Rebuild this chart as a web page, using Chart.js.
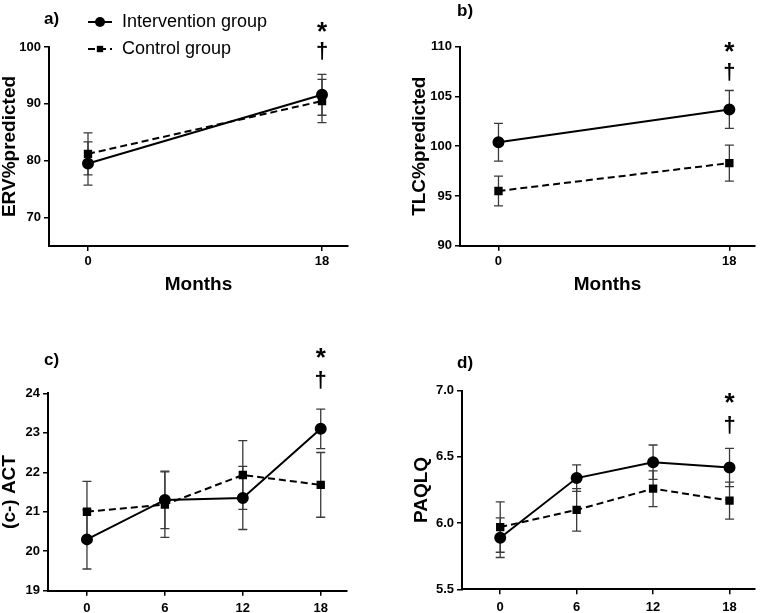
<!DOCTYPE html>
<html>
<head>
<meta charset="utf-8">
<script src="https://cdn.jsdelivr.net/npm/chart.js@4"></script>
<style>
  body { margin: 0; background: #fff; }
  #wrap { position: relative; width: 762px; height: 613px; overflow: hidden; background: #fff; }
  canvas { position: absolute; }
</style>
</head>
<body>
<div id="wrap">
  <canvas id="panelA" width="381" height="300" style="left:0px;top:0px"></canvas>
  <canvas id="panelB" width="381" height="300" style="left:381px;top:0px"></canvas>
  <canvas id="panelC" width="381" height="313" style="left:0px;top:300px"></canvas>
  <canvas id="panelD" width="381" height="313" style="left:381px;top:300px"></canvas>
</div>
<script>
// months on the x axis
const monthsShort = [0, 18];
const monthsLong = [0, 6, 12, 18];

// a) ERV % predicted (mean, error)
const ervIntervention = [79.5, 91.6];
const ervInterventionErr = [3.8, 3.6];
const ervControl = [81.2, 90.5];
const ervControlErr = [3.7, 3.8];
const ervTicks = [70, 80, 90, 100];

// b) TLC % predicted
const tlcIntervention = [100.4, 103.7];
const tlcInterventionErr = [1.9, 1.9];
const tlcControl = [95.5, 98.3];
const tlcControlErr = [1.5, 1.8];
const tlcTicks = [90, 95, 100, 105, 110];

// c) (c-) ACT
const actIntervention = [20.3, 21.3, 21.35, 23.1];
const actInterventionErr = [0.75, 0.73, 0.8, 0.5];
const actControl = [21.0, 21.18, 21.93, 21.68];
const actControlErr = [0.77, 0.83, 0.87, 0.82];
const actTicks = [19, 20, 21, 22, 23, 24];

// d) PAQLQ
const paqlqIntervention = [5.89, 6.34, 6.46, 6.42];
const paqlqInterventionErr = [0.15, 0.1, 0.13, 0.145];
const paqlqControl = [5.97, 6.10, 6.26, 6.17];
const paqlqControlErr = [0.19, 0.16, 0.135, 0.14];
const paqlqTicks = [5.5, 6.0, 6.5, 7.0];

const seriesLabels = ['Intervention group', 'Control group'];
const FONT = '"Liberation Sans", Arial, Helvetica, sans-serif';

Chart.defaults.font.family = FONT;
Chart.defaults.color = '#000';

function centerText(ctx, text, x, y) {
  ctx.textBaseline = 'alphabetic';
  const m = ctx.measureText(text);
  ctx.fillText(text, x, y + (m.actualBoundingBoxAscent - m.actualBoundingBoxDescent) / 2);
}

// error bars drawn under the lines, from the y scale
const errorBarPlugin = {
  id: 'errorBars',
  beforeDatasetsDraw(chart) {
    const ctx = chart.ctx;
    const ys = chart.scales.y;
    ctx.save();
    ctx.strokeStyle = '#3a3a3a';
    ctx.lineWidth = 1.3;
    chart.data.datasets.forEach((ds, i) => {
      const meta = chart.getDatasetMeta(i);
      meta.data.forEach((pt, j) => {
        const v = ds.data[j].y, e = ds.errors[j];
        const top = ys.getPixelForValue(v + e);
        const bot = ys.getPixelForValue(v - e);
        ctx.beginPath();
        ctx.moveTo(pt.x, top); ctx.lineTo(pt.x, bot);
        ctx.moveTo(pt.x - 4.5, top); ctx.lineTo(pt.x + 4.5, top);
        ctx.moveTo(pt.x - 4.5, bot); ctx.lineTo(pt.x + 4.5, bot);
        ctx.stroke();
      });
    });
    ctx.restore();
  }
};

// panel letter, significance marks and the legend
const markPlugin = {
  id: 'marks',
  afterDraw(chart, args, o) {
    const ctx = chart.ctx;
    ctx.save();
    ctx.fillStyle = '#000';
    ctx.textAlign = 'left';
    ctx.font = 'bold 17px ' + FONT;
    centerText(ctx, o.letter, o.letterX, o.letterY);

    const x18 = chart.scales.x.getPixelForValue(18);
    ctx.textAlign = 'center';
    ctx.font = 'bold 26px ' + FONT;
    centerText(ctx, '*', x18, o.starY[0]);
    ctx.font = 'bold 22px ' + FONT;
    centerText(ctx, '\u2020', x18, o.starY[1]);

    if (o.legend) {
      chart.data.datasets.forEach((ds, i) => {
        const y = o.legend.y[i];
        ctx.strokeStyle = '#000';
        ctx.lineWidth = 2;
        ctx.setLineDash(ds.borderDash || []);
        ctx.beginPath();
        ctx.moveTo(o.legend.x0, y); ctx.lineTo(o.legend.x1, y);
        ctx.stroke();
        ctx.setLineDash([]);
        const cx = (o.legend.x0 + o.legend.x1) / 2;
        ctx.beginPath();
        if (ds.pointStyle === 'rect') {
          const s = ds.pointRadius * Math.SQRT1_2;
          ctx.rect(cx - s, y - s, 2 * s, 2 * s);
        } else {
          ctx.arc(cx, y, ds.pointRadius, 0, Math.PI * 2);
        }
        ctx.fill();
        ctx.textAlign = 'left';
        ctx.font = '18px ' + FONT;
        centerText(ctx, ds.label, o.legend.tx, y);
      });
    }
    ctx.restore();
  }
};

function points(xs, ys) {
  return xs.map((x, i) => ({ x: x, y: ys[i] }));
}

function drawPanel(id, p) {
  const axisGrid = { drawOnChartArea: false, drawTicks: true, tickLength: 5, color: '#000', lineWidth: 1.5 };
  const axisBorder = { display: true, color: '#000', width: 2 };
  return new Chart(document.getElementById(id), {
    type: 'line',
    data: {
      datasets: [{
        label: seriesLabels[0],
        data: points(p.months, p.inter),
        errors: p.interErr,
        borderColor: '#000', backgroundColor: '#000',
        borderWidth: 2, pointStyle: 'circle', pointRadius: 5,
        tension: 0
      }, {
        label: seriesLabels[1],
        data: points(p.months, p.control),
        errors: p.controlErr,
        borderColor: '#000', backgroundColor: '#000',
        borderWidth: 2, borderDash: [7, 4], pointStyle: 'rect', pointRadius: 4.5,
        tension: 0
      }]
    },
    options: {
      responsive: false,
      animation: false,
      layout: { padding: p.pad },
      plugins: {
        legend: { display: false },
        tooltip: { enabled: false },
        marks: p.marks
      },
      scales: {
        x: {
          type: 'linear', min: -3, max: 20,
          afterBuildTicks: s => { s.ticks = p.months.map(v => ({ value: v })); },
          afterFit: s => { s.height = p.xHeight; },
          grid: axisGrid, border: axisBorder,
          ticks: { color: '#000', font: { size: 13, weight: 'bold' }, padding: p.xTickPad, maxRotation: 0 },
          title: {
            display: !!p.xTitle, text: p.xTitle || '', color: '#000',
            font: { size: 19, weight: 'bold', lineHeight: 1 }, padding: 0
          }
        },
        y: {
          type: 'linear', min: p.yMin, max: p.yMax,
          afterBuildTicks: s => { s.ticks = p.yTicks.map(v => ({ value: v })); },
          afterFit: s => { s.width = p.yWidth; },
          grid: axisGrid, border: axisBorder,
          ticks: {
            color: '#000', font: { size: 13, weight: 'bold' }, padding: 3,
            callback: v => p.yDecimals ? v.toFixed(p.yDecimals) : String(v)
          },
          title: {
            display: true, text: p.yTitle, color: '#000',
            font: { size: 19, weight: 'bold', lineHeight: 1 }, padding: 0
          }
        }
      }
    },
    plugins: [errorBarPlugin, markPlugin]
  });
}

drawPanel('panelA', {
  months: monthsShort,
  inter: ervIntervention, interErr: ervInterventionErr,
  control: ervControl, controlErr: ervControlErr,
  yMin: 65, yMax: 100, yTicks: ervTicks, yTitle: 'ERV%predicted', xTitle: 'Months',
  pad: { left: 0, right: 33, top: 47, bottom: 5.5 }, yWidth: 49, xHeight: 48.5, xTickPad: 3,
  marks: { letter: 'a)', letterX: 44, letterY: 19, starY: [27, 51],
           legend: { x0: 88, x1: 112, tx: 122, y: [22, 49] } }
});

drawPanel('panelB', {
  months: monthsShort,
  inter: tlcIntervention, interErr: tlcInterventionErr,
  control: tlcControl, controlErr: tlcControlErr,
  yMin: 90, yMax: 110, yTicks: tlcTicks, yTitle: 'TLC%predicted', xTitle: 'Months',
  pad: { left: 29.5, right: 2.5, top: 46.7, bottom: 5.5 }, yWidth: 49.5, xHeight: 48.8, xTickPad: 3,
  marks: { letter: 'b)', letterX: 76, letterY: 11, starY: [46.7, 71.7] }
});

drawPanel('panelC', {
  months: monthsLong,
  inter: actIntervention, interErr: actInterventionErr,
  control: actControl, controlErr: actControlErr,
  yMin: 19, yMax: 24, yTicks: actTicks, yTitle: '(c-) ACT',
  pad: { left: 0, right: 34.3, top: 93.3, bottom: 0 }, yWidth: 48, xHeight: 22.3, xTickPad: 5,
  marks: { letter: 'c)', letterX: 44, letterY: 60, starY: [53, 80] }
});

drawPanel('panelD', {
  months: monthsLong,
  inter: paqlqIntervention, interErr: paqlqInterventionErr,
  control: paqlqControl, controlErr: paqlqControlErr,
  yMin: 5.5, yMax: 7.0, yTicks: paqlqTicks, yDecimals: 1, yTitle: 'PAQLQ',
  pad: { left: 31.3, right: 0, top: 90.7, bottom: 0 }, yWidth: 49.7, xHeight: 23.7, xTickPad: 5,
  marks: { letter: 'd)', letterX: 76, letterY: 63, starY: [98, 125] }
});
</script>
</body>
</html>
